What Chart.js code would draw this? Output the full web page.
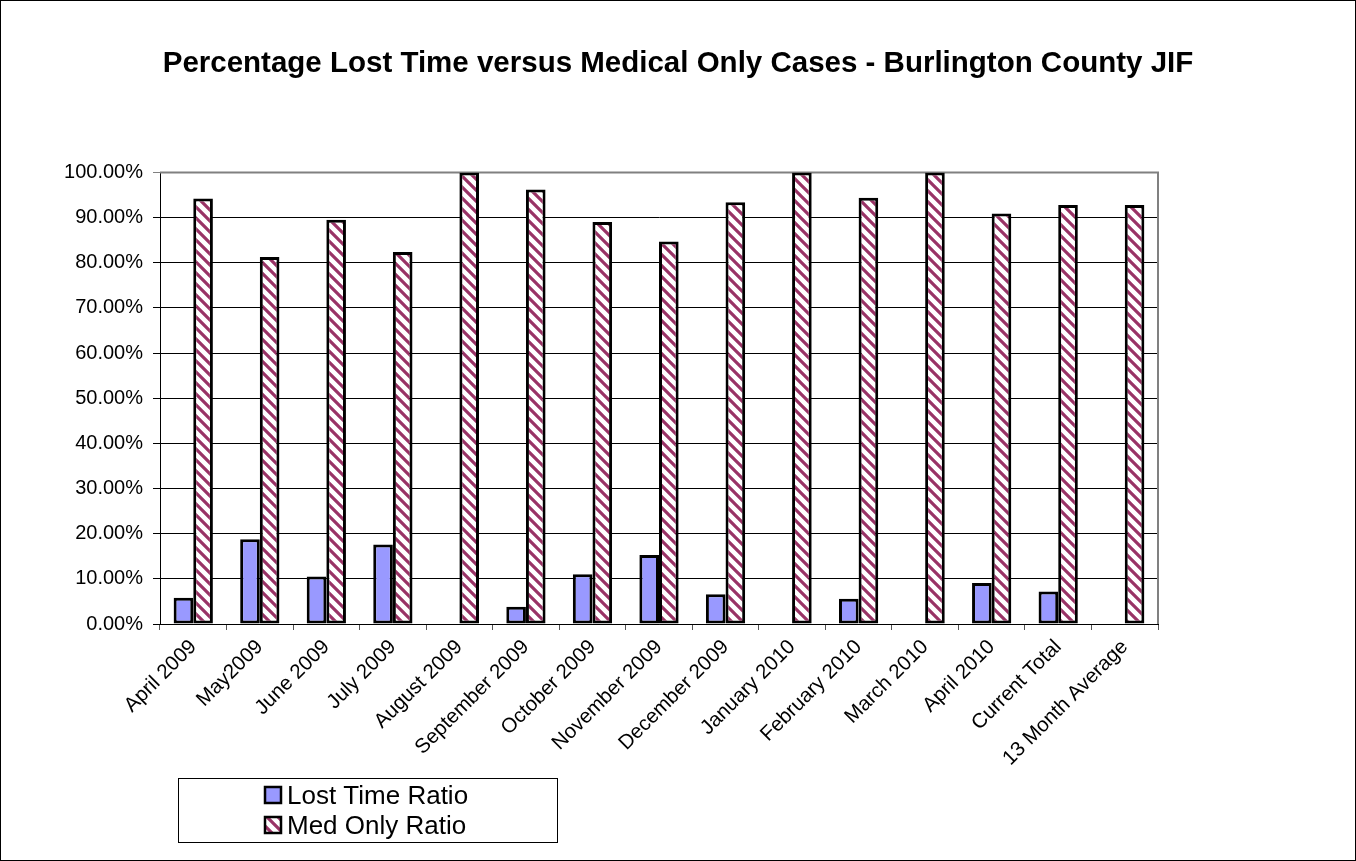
<!DOCTYPE html>
<html>
<head>
<meta charset="utf-8">
<title>Percentage Lost Time versus Medical Only Cases</title>
<script src="https://cdn.jsdelivr.net/npm/chart.js@4.4.1/dist/chart.umd.min.js"></script>
<style>
    html, body { margin: 0; padding: 0; background: #fff; }
    #wrap { width: 1356px; height: 861px; }
</style>
</head>
<body>
<div id="wrap"><canvas id="lostTimeChart" width="1356" height="861"></canvas></div>
<script>
// chart data

const months = [
    'April 2009', 'May2009', 'June 2009', 'July 2009', 'August 2009',
    'September 2009', 'October 2009', 'November 2009', 'December 2009',
    'January 2010', 'February 2010', 'March 2010', 'April 2010',
    'Current Total', '13 Month Average'
];

const lostTimeRatio = [5.8, 18.75, 10.5, 17.6, 0, 3.8, 11.0, 15.3, 6.6, 0, 5.6, 0, 9.1, 7.2, 0];
const medOnlyRatio = [94.2, 81.25, 89.5, 82.4, 100, 96.2, 89.0, 84.7, 93.4, 100, 94.4, 100, 90.9, 92.8, 92.8];

const yTicks = [0, 10, 20, 30, 40, 50, 60, 70, 80, 90, 100];

const FONT = 'Arial, "Liberation Sans", sans-serif';


// diagonal hatch for the med only bars
function makeHatch() {
    const size = 11;
    const c = document.createElement('canvas');
    c.width = size;
    c.height = size;
    const g = c.getContext('2d');
    g.fillStyle = '#ffffff';
    g.fillRect(0, 0, size, size);
    g.strokeStyle = '#993366';
    g.lineWidth = 3.2;
    g.beginPath();
    for (let k = -1; k <= 1; k++) {
        g.moveTo(k * size - 2, -2);
        g.lineTo(k * size + size + 2, size + 2);
    }
    g.stroke();
    return g.createPattern(c, 'repeat');
}

const hatch = makeHatch();


// outer frame, plot border and the boxed legend
const framePlugin = {
    id: 'frame',
    beforeDraw(chart) {
        const ctx = chart.ctx;
        ctx.save();
        ctx.fillStyle = '#fff';
        ctx.fillRect(0, 0, chart.width, chart.height);
        ctx.strokeStyle = '#000';
        ctx.lineWidth = 1;
        ctx.strokeRect(0.5, 0.5, chart.width - 1, chart.height - 1);
        ctx.restore();
    },
    beforeDatasetsDraw(chart) {
        const a = chart.chartArea;
        const ctx = chart.ctx;
        ctx.save();
        ctx.strokeStyle = '#808080';
        ctx.lineWidth = 2;
        ctx.beginPath();
        ctx.moveTo(a.left, a.top);
        ctx.lineTo(a.right, a.top);
        ctx.lineTo(a.right, a.bottom);
        ctx.stroke();
        ctx.restore();
    },
    afterDraw(chart) {
        const ctx = chart.ctx;
        const box = { x: 178, y: 778, w: 379, h: 64 };
        ctx.save();
        ctx.strokeStyle = '#000';
        ctx.lineWidth = 1;
        ctx.strokeRect(box.x + 0.5, box.y + 0.5, box.w, box.h);

        ctx.font = '26px ' + FONT;
        ctx.textBaseline = 'alphabetic';
        ctx.textAlign = 'left';
        chart.data.datasets.forEach((ds, i) => {
            const sy = 787 + i * 30;
            ctx.fillStyle = ds.backgroundColor;
            ctx.fillRect(265, sy, 16, 16);
            ctx.strokeStyle = '#000';
            ctx.lineWidth = 2.5;
            ctx.strokeRect(265, sy, 16, 16);
            ctx.fillStyle = '#000';
            ctx.fillText(ds.label, 287, sy + 17);
        });
        ctx.restore();
    }
};


window.onload = () => {
    const ctx = document.getElementById('lostTimeChart').getContext('2d');

    new Chart(ctx, {
        type: 'bar',
        data: {
            labels: months,
            datasets: [{
                label: 'Lost Time Ratio',
                data: lostTimeRatio,
                backgroundColor: '#9999ff',
                borderColor: '#000',
                borderWidth: 3,
                borderSkipped: false,
                categoryPercentage: 0.59,
                barPercentage: 1.0
            }, {
                label: 'Med Only Ratio',
                data: medOnlyRatio,
                backgroundColor: hatch,
                borderColor: '#000',
                borderWidth: 3,
                borderSkipped: false,
                categoryPercentage: 0.59,
                barPercentage: 1.0
            }]
        },
        options: {
            responsive: false,
            animation: false,
            layout: {
                padding: 0
            },
            plugins: {
                legend: { display: false },
                tooltip: { enabled: false },
                title: {
                    display: true,
                    text: 'Percentage Lost Time versus Medical Only Cases - Burlington County JIF',
                    color: '#000',
                    font: { family: FONT, size: 29.5, weight: 'bold' },
                    padding: { top: 46, bottom: 91 }
                }
            },
            scales: {
                x: {
                    grid: {
                        display: true,
                        offset: true,
                        drawOnChartArea: false,
                        drawTicks: true,
                        tickLength: 6,
                        color: '#555'
                    },
                    border: { display: true, color: '#000', width: 1 },
                    ticks: {
                        color: '#000',
                        font: { family: FONT, size: 20.5 },
                        minRotation: 45,
                        maxRotation: 45,
                        autoSkip: false,
                        padding: 5
                    },
                    afterFit(scale) {
                        scale.height = 861 - 624;
                    }
                },
                y: {
                    min: 0,
                    max: 100,
                    afterBuildTicks(scale) {
                        scale.ticks = yTicks.map(v => ({ value: v }));
                    },
                    grid: {
                        color: (c) => (c.tick && c.tick.value === 100 ? '#808080' : '#000'),
                        lineWidth: 1,
                        tickLength: 7
                    },
                    border: { display: true, color: '#000', width: 1 },
                    ticks: {
                        color: '#000',
                        font: { family: FONT, size: 20 },
                        padding: 10,
                        callback: (v) => Number(v).toFixed(2) + '%'
                    },
                    afterFit(scale) {
                        scale.width = 160;
                    }
                },
                // empty right-hand space so the title stays centred on the page
                spacer: {
                    type: 'linear',
                    position: 'right',
                    display: true,
                    grid: { display: false },
                    border: { display: false },
                    ticks: { display: false },
                    afterFit(scale) {
                        scale.width = 1356 - 1158;
                    }
                }
            }
        },
        plugins: [framePlugin]
    });
};
</script>
</body>
</html>
